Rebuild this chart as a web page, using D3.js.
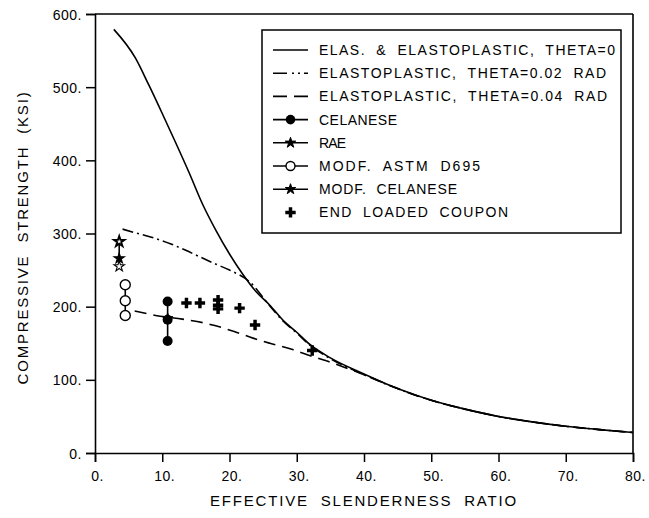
<!DOCTYPE html>
<html><head><meta charset="utf-8">
<script src="https://cdn.jsdelivr.net/npm/d3@7"></script>
<style>
html,body{margin:0;padding:0;background:#fff;}
svg{display:block;}
text{font-family:"Liberation Sans",Arial,sans-serif;fill:#000;}
</style></head>
<body>
<svg id="chart" width="649" height="518"></svg>
<script>
// ---- data ----
const xTicks = [0,10,20,30,40,50,60,70,80];
const yTicks = [0,100,200,300,400,500,600];
const xTickLabels = ["0.","10.","20.","30.","40.","50.","60.","70.","80."];
const yTickLabels = ["0.","100.","200.","300.","400.","500.","600."];

const theta0 = [[2.8,579],[6,540],[8,503],[10,464],[12,424],[14,383],[16,340],[18,304],[20,272],[22,244],[24,220],[26,202],[28,181],[30,165],[32,148],[35,130],[40,108],[45,88],[50,72],[55,60],[60,50],[65,42.5],[70,36.5],[75,32],[80,28]];
const theta002 = [[4.1,306],[6,301],[8,296],[11.2,286],[13.5,277],[15.6,268],[18,258],[20,250],[23,234],[26,201],[28,180],[30,164],[32,147],[35,129],[40,107],[45,88],[50,72],[55,60],[60,50],[65,42.5],[70,36.5],[75,32],[80,28]];
const theta004 = [[5.9,194],[9.7,187],[13,183],[17.5,175],[21,165],[23.5,157],[26,150],[29.5,141],[32,133],[35,124],[40,107],[45,88],[50,72],[55,60],[60,50],[65,42.5],[70,36.5],[75,32],[80,28]];

const celaneseX = [10.8,10.8,10.8];
const celaneseY = [207,182,153];
const raeX = [3.6,3.6,3.6];
const raeY = [289,266,255];
const astmX = [4.5,4.5,4.5];
const astmY = [230,208,188];
const modfCelaneseX = [10.8];
const modfCelaneseY = [184];
const endLoadedX = [13.6,15.6,18.3,18.3,18.3,21.5,23.8,32.3];
const endLoadedY = [205,205,209,202,197,198,175,140];

const legendLabels = ["ELAS. & ELASTOPLASTIC, THETA=0","ELASTOPLASTIC, THETA=0.02 RAD","ELASTOPLASTIC, THETA=0.04 RAD","CELANESE","RAE","MODF. ASTM D695","MODF. CELANESE","END LOADED COUPON"];
const xTitle = "EFFECTIVE SLENDERNESS RATIO";
const yTitle = "COMPRESSIVE STRENGTH (KSI)";

// ---- layout / style ----
const L = 95, R = 633, T = 14, B = 453;
const legendTextWidths = [296,287,288,78,27,161,138,189];
const svg = d3.select("#chart");
const x = d3.scaleLinear().domain([0,80]).range([L,R]);
const y = d3.scaleLinear().domain([0,600]).range([B,T]);

const g = svg.append("g");

// axes
const xAxis = d3.axisBottom(x).tickValues(xTicks).tickSize(9).tickFormat((d,i)=>xTickLabels[i]);
const yAxis = d3.axisLeft(y).tickValues(yTicks).tickSize(9).tickFormat((d,i)=>yTickLabels[i]);
const gx = g.append("g").attr("transform",`translate(0,${B})`).call(xAxis);
const gy = g.append("g").attr("transform",`translate(${L},0)`).call(yAxis);
[gx,gy].forEach(a=>{
  a.select(".domain").attr("stroke","#000").attr("stroke-width",1.6);
  a.selectAll(".tick line").attr("stroke","#000").attr("stroke-width",1.5);
  a.selectAll(".tick text").attr("font-size",14).attr("font-family","Liberation Sans, Arial, sans-serif").attr("fill","#000").attr("letter-spacing","0.5px");
});
gx.selectAll(".tick text").attr("dy",null).attr("y",28).attr("dx","2");
gy.selectAll(".tick text").attr("x",-13).attr("dy","0.36em");

// frame top & right
g.append("line").attr("x1",L).attr("x2",R).attr("y1",T).attr("y2",T).attr("stroke","#000").attr("stroke-width",1.6);
g.append("line").attr("x1",R).attr("x2",R).attr("y1",T).attr("y2",B).attr("stroke","#000").attr("stroke-width",1.6);

// titles
g.append("text").attr("x",(L+R)/2).attr("y",506).attr("text-anchor","middle").attr("font-size",15)
 .attr("letter-spacing","1.8px").attr("word-spacing","6px").text(xTitle);
g.append("text").attr("transform",`translate(28,${(T+B)/2+4}) rotate(-90)`).attr("text-anchor","middle").attr("font-size",15)
 .attr("letter-spacing","1.8px").attr("word-spacing","6px").text(yTitle);

// curves
const line = d3.line().x(d=>x(d[0])).y(d=>y(d[1])).curve(d3.curveMonotoneX);
const styles = [
  {data:theta0, dash:null},
  {data:theta002, dash:"11,4,2,4"},
  {data:theta004, dash:"12,7"}
];
styles.slice().reverse().forEach(s=>{
  g.append("path").attr("d",line(s.data)).attr("fill","none").attr("stroke","#000").attr("stroke-width",1.6)
   .attr("stroke-dasharray",s.dash);
});

// markers
const star = d3.symbol().type(d3.symbolStar).size(34);
const cross = d3.symbol().type(d3.symbolCross).size(60);
function vline(xs,ys){
  g.append("line").attr("x1",x(xs[0])).attr("x2",x(xs[0])).attr("y1",y(d3.max(ys))).attr("y2",y(d3.min(ys)))
   .attr("stroke","#000").attr("stroke-width",1.6);
}
vline(celaneseX,celaneseY);
vline(raeX,raeY);
vline(astmX,astmY);

g.selectAll(".cel").data(celaneseY).enter().append("circle")
 .attr("cx",(d,i)=>x(celaneseX[i])).attr("cy",d=>y(d)).attr("r",5).attr("fill","#000");
g.selectAll(".astm").data(astmY).enter().append("circle")
 .attr("cx",(d,i)=>x(astmX[i])).attr("cy",d=>y(d)).attr("r",5).attr("fill","#fff").attr("stroke","#000").attr("stroke-width",1.4);
g.selectAll(".rae").data(raeY).enter().append("path")
 .attr("d",star).attr("transform",(d,i)=>`translate(${x(raeX[i])},${y(d)})`)
 .attr("fill",(d,i)=>i===1?"#000":"#fff").attr("stroke","#000").attr("stroke-width",(d,i)=>i===0?1.9:1.1);
g.selectAll(".mcel").data(modfCelaneseY).enter().append("path")
 .attr("d",star).attr("transform",(d,i)=>`translate(${x(modfCelaneseX[i])},${y(d)})`).attr("fill","#000").attr("stroke","#000").attr("stroke-width",1);
g.selectAll(".end").data(endLoadedY).enter().append("path")
 .attr("d",cross).attr("transform",(d,i)=>`translate(${x(endLoadedX[i])},${y(d)})`).attr("fill","#000");

// legend
const lg = g.append("g");
lg.append("rect").attr("x",262).attr("y",30).attr("width",359).attr("height",203).attr("fill","#fff").attr("stroke","#000").attr("stroke-width",1.5);
const rowY = d3.range(8).map(i=>50+i*23.2);
const lx1 = 273, lx2 = 308, lxm = 290.5;
legendLabels.forEach((t,i)=>{
  const yy = rowY[i];
  if(i<7){
    const ln = lg.append("line").attr("x1",lx1).attr("x2",lx2).attr("y1",yy).attr("y2",yy).attr("stroke","#000").attr("stroke-width",1.6);
    if(i===1) ln.attr("stroke-dasharray","14,5,2,4,2,4");
    if(i===2) ln.attr("stroke-dasharray","14,7");
  }
  if(i===3) lg.append("circle").attr("cx",lxm).attr("cy",yy).attr("r",4.8).attr("fill","#000");
  if(i===4||i===6) lg.append("path").attr("d",star).attr("transform",`translate(${lxm},${yy})`).attr("fill","#000").attr("stroke","#000").attr("stroke-width",1);
  if(i===5) lg.append("circle").attr("cx",lxm).attr("cy",yy).attr("r",4.5).attr("fill","#fff").attr("stroke","#000").attr("stroke-width",1.4);
  if(i===7) lg.append("path").attr("d",cross).attr("transform",`translate(${lxm},${yy})`).attr("fill","#000");
  lg.append("text").attr("x",319).attr("y",yy).attr("dy","0.36em").attr("font-size",14)
    .attr("word-spacing","5px")
    .attr("textLength",legendTextWidths[i]).attr("lengthAdjust","spacing").text(t);
});
</script>
</body></html>
